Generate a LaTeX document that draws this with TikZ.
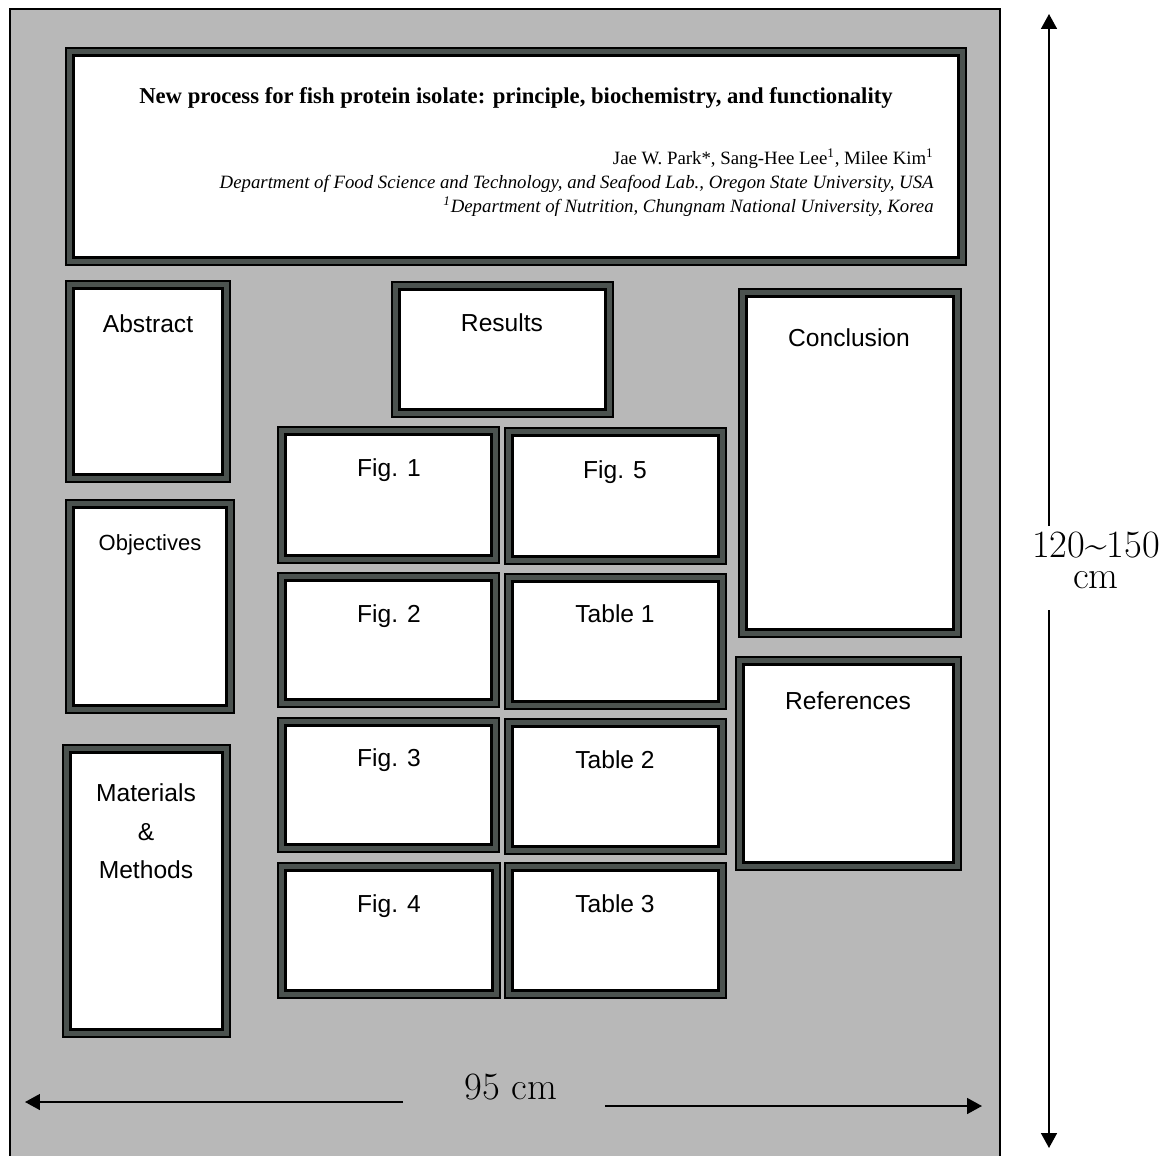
\documentclass[tikz,border=0pt]{standalone}
\usepackage{fontspec}
\setmainfont{Liberation Serif}
\setsansfont{Liberation Sans}
\newfontfamily\dimfont{Latin Modern Roman}
\usetikzlibrary{arrows.meta}
\definecolor{board}{HTML}{B8B8B8}
\definecolor{rim}{HTML}{4B524F}

\begin{document}
\begin{tikzpicture}[x=0.02cm, y=-0.02cm,
    rim/.style={draw=black, fill=rim, line width=1pt},
    pane/.style={draw=black, fill=white, line width=1.7pt},
    head/.style={anchor=base, inner sep=0pt, font=\sffamily\fontsize{14}{17}\selectfont},
    dim/.style={black, line width=1.1pt, -{Triangle[length=8.5pt,width=9pt]}},
    dimtext/.style={inner sep=0pt, font=\dimfont\fontsize{22}{17.5}\selectfont}]
  \clip (0,0) rectangle (1173,1156);
  \fill[white] (0,0) rectangle (1173,1156);
  \draw[fill=board, line width=1.6pt] (10,9) rectangle (1000,1170);
  % frames: left/top/right/bottom
  \foreach \xa/\ya/\xb/\yb in {65/47/967/266, 65/280/231/483, 65/499/235/714,
      62/744/231/1038, 391/281/614/418, 277/426/500/564, 504/427/727/565,
      277/572/500/708, 504/573/727/710, 277/717/500/853, 504/718/727/855,
      277/862/501/999, 504/862/727/999, 738/288/962/638, 735/656/962/871}{
    \draw[rim] (\xa+0.9,\ya+0.9) rectangle (\xb-0.9,\yb-0.9);
    \draw[pane] (\xa+8.5,\ya+8.5) rectangle (\xb-8.5,\yb-8.5);
  }
  % title block
  \node[anchor=base, inner sep=0pt, font=\bfseries\fontsize{12.9}{15}\selectfont] (title) at (516,103)
    {New process for fish protein isolate: principle, biochemistry, and functionality};
  \node[anchor=base east, inner sep=0pt, font=\fontsize{10.7}{13}\selectfont] (authors) at (934,164)
    {Jae W. Park*, Sang-Hee Lee\textsuperscript{1}, Milee Kim\textsuperscript{1}};
  \node[anchor=base east, inner sep=0pt, font=\itshape\fontsize{10.7}{13}\selectfont] (affa) at (934,188)
    {Department of Food Science and Technology, and Seafood Lab., Oregon State University, USA};
  \node[anchor=base east, inner sep=0pt, font=\itshape\fontsize{10.7}{13}\selectfont] (affb) at (934,212)
    {\textsuperscript{1}Department of Nutrition, Chungnam National University, Korea};
  % section headings
  \foreach \n/\x/\y/\t in {abstract/148/332/Abstract, results/502/331/Results,
      conclusion/849/346/Conclusion, fig1/389/476/Fig. 1, fig5/615/478/Fig. 5,
      fig2/389/622/Fig. 2, table1/615/622/Table 1, fig3/389/766/Fig. 3,
      table2/615/768/Table 2, fig4/389/912/Fig. 4, table3/615/912/Table 3,
      references/848/709/References, materials/146/801/Materials,
      amp/146/840/\&, methods/146/878/Methods}
    \node[head] (\n) at (\x,\y) {\t};
  \node[head, font=\sffamily\fontsize{12.5}{15}\selectfont] (objectives) at (150,550) {Objectives};
  % dimensions
  \coordinate (wl) at (25,1102);
  \coordinate (wlm) at (403,1102);
  \coordinate (wr) at (982,1106);
  \coordinate (wrm) at (605,1106);
  \coordinate (ht) at (1049,14);
  \coordinate (htm) at (1049,526);
  \coordinate (hb) at (1049,1148);
  \coordinate (hbm) at (1049,610);
  \draw[dim] (wlm) -- (wl);
  \draw[dim] (wrm) -- (wr);
  \draw[dim] (htm) -- (ht);
  \draw[dim] (hbm) -- (hb);
  \node[dimtext, anchor=base] (width) at (511,1099) {95 cm};
  \node[dimtext, align=center] (height) at (1096,560) {120\textasciitilde150\\cm};
\end{tikzpicture}
\end{document}
